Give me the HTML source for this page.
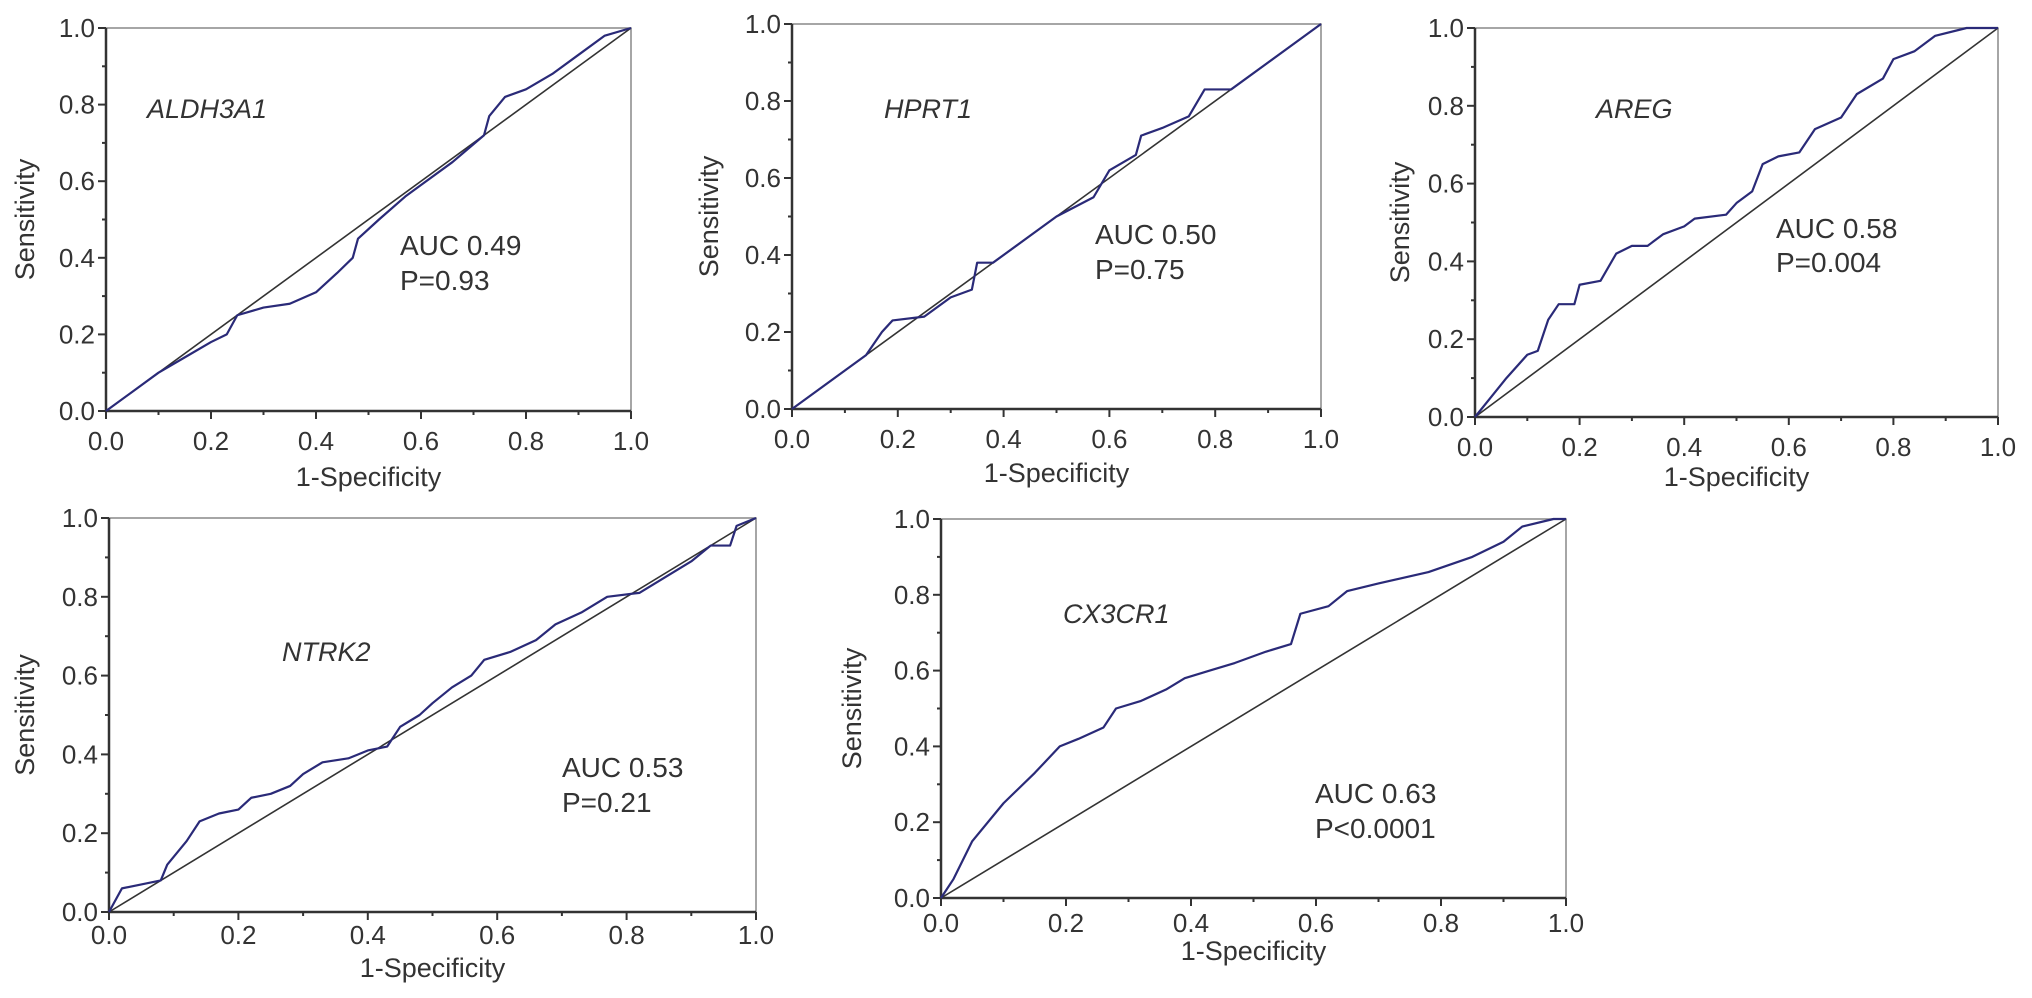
<!DOCTYPE html>
<html><head><meta charset="utf-8"><style>
html,body{margin:0;padding:0;background:#fff;}
svg{display:block;font-family:"Liberation Sans",Arial,sans-serif;}
</style></head><body>
<svg id="fig" width="2032" height="998" viewBox="0 0 2032 998" xmlns="http://www.w3.org/2000/svg"></svg>
<script>
const tickValues = [0, 0.2, 0.4, 0.6, 0.8, 1.0];
const tickLabels = ["0.0", "0.2", "0.4", "0.6", "0.8", "1.0"];
const geneNames = ["ALDH3A1", "HPRT1", "AREG", "NTRK2", "CX3CR1"];
const aucLabels = ["AUC 0.49", "AUC 0.50", "AUC 0.58", "AUC 0.53", "AUC 0.63"];
const pLabels = ["P=0.93", "P=0.75", "P=0.004", "P=0.21", "P<0.0001"];
const fprALDH3A1 = [0,0.05,0.1,0.15,0.2,0.23,0.25,0.3,0.35,0.4,0.44,0.47,0.48,0.52,0.57,0.6,0.66,0.72,0.73,0.76,0.8,0.85,0.9,0.95,1];
const tprALDH3A1 = [0,0.05,0.1,0.14,0.18,0.2,0.25,0.27,0.28,0.31,0.36,0.4,0.45,0.5,0.56,0.59,0.65,0.72,0.77,0.82,0.84,0.88,0.93,0.98,1];
const fprHPRT1 = [0,0.05,0.1,0.14,0.17,0.19,0.25,0.3,0.34,0.35,0.38,0.45,0.5,0.57,0.6,0.65,0.66,0.7,0.75,0.78,0.83,0.9,0.95,1];
const tprHPRT1 = [0,0.05,0.1,0.14,0.2,0.23,0.24,0.29,0.31,0.38,0.38,0.45,0.5,0.55,0.62,0.66,0.71,0.73,0.76,0.83,0.83,0.9,0.95,1];
const fprAREG = [0,0.03,0.06,0.1,0.12,0.14,0.16,0.19,0.2,0.24,0.27,0.3,0.33,0.36,0.4,0.42,0.48,0.5,0.53,0.55,0.58,0.62,0.65,0.7,0.73,0.78,0.8,0.84,0.88,0.94,1];
const tprAREG = [0,0.05,0.1,0.16,0.17,0.25,0.29,0.29,0.34,0.35,0.42,0.44,0.44,0.47,0.49,0.51,0.52,0.55,0.58,0.65,0.67,0.68,0.74,0.77,0.83,0.87,0.92,0.94,0.98,1,1];
const fprNTRK2 = [0,0.02,0.05,0.08,0.09,0.12,0.14,0.17,0.2,0.22,0.25,0.28,0.3,0.33,0.37,0.4,0.43,0.45,0.48,0.5,0.53,0.56,0.58,0.62,0.66,0.69,0.73,0.77,0.82,0.86,0.9,0.93,0.96,0.97,1];
const tprNTRK2 = [0,0.06,0.07,0.08,0.12,0.18,0.23,0.25,0.26,0.29,0.3,0.32,0.35,0.38,0.39,0.41,0.42,0.47,0.5,0.53,0.57,0.6,0.64,0.66,0.69,0.73,0.76,0.8,0.81,0.85,0.89,0.93,0.93,0.98,1];
const fprCX3CR1 = [0,0.02,0.05,0.1,0.15,0.19,0.22,0.26,0.28,0.32,0.36,0.39,0.43,0.47,0.52,0.56,0.575,0.62,0.65,0.7,0.78,0.85,0.9,0.93,0.98,1];
const tprCX3CR1 = [0,0.05,0.15,0.25,0.33,0.4,0.42,0.45,0.5,0.52,0.55,0.58,0.6,0.62,0.65,0.67,0.75,0.77,0.81,0.83,0.86,0.9,0.94,0.98,1,1];
const fprSeries = [fprALDH3A1, fprHPRT1, fprAREG, fprNTRK2, fprCX3CR1];
const tprSeries = [tprALDH3A1, tprHPRT1, tprAREG, tprNTRK2, tprCX3CR1];

// layout (pixel geometry, not data)
const panels = [
 {L:106,R:631,T:28,B:411, gx:147,gy:108, ax:400,ay:245,py:280, xt:30,xl:66, yl:25},
 {L:792,R:1321,T:24,B:409, gx:884,gy:108, ax:1095,ay:234,py:269, xt:30,xl:64, yl:709},
 {L:1475,R:1998,T:28,B:417, gx:1596,gy:108, ax:1776,ay:228,py:262, xt:30,xl:60, yl:1400},
 {L:109,R:756,T:518,B:912, gx:282,gy:651, ax:562,ay:767,py:802, xt:23,xl:56, yl:25},
 {L:941,R:1566,T:519,B:898, gx:1063,gy:613, ax:1315,ay:793,py:828, xt:25,xl:53, yl:852}
];
const NS="http://www.w3.org/2000/svg";
const svg=document.getElementById('fig');
function mk(tag,attrs,parent,text){const e=document.createElementNS(NS,tag);for(const k in attrs)e.setAttribute(k,attrs[k]);if(text!==undefined)e.textContent=text;(parent||svg).appendChild(e);return e;}

panels.forEach((p,i)=>{
  const g=mk('g',{});
  
  
  const xs=v=>p.L+v*(p.R-p.L);
  const ys=v=>p.B-v*(p.B-p.T);
  const fr=mk('path',{d:`M${p.L},${p.T}H${p.R}V${p.B}`,fill:'none',stroke:'#888',"stroke-width":1.5},g);
  
  
  const ax=mk('path',{d:`M${p.L},${p.T}V${p.B}H${p.R}`,fill:'none',stroke:'#333',"stroke-width":2.5},g);
  
  
  for(let k=1;k<10;k+=2){
    const v=k/10;
    mk('line',{x1:xs(v),x2:xs(v),y1:p.B,y2:p.B+4,stroke:'#333',"stroke-width":2},g);
    mk('line',{x1:p.L-4,x2:p.L,y1:ys(v),y2:ys(v),stroke:'#333',"stroke-width":2},g);
  }
  tickValues.forEach((v,j)=>{
    mk('line',{x1:xs(v),x2:xs(v),y1:p.B,y2:p.B+8,stroke:'#333',"stroke-width":2},g);
    mk('line',{x1:p.L-8,x2:p.L,y1:ys(v),y2:ys(v),stroke:'#333',"stroke-width":2},g);
    const xt=mk('text',{x:xs(v),y:p.B+p.xt+9,"font-size":26,"text-anchor":"middle",fill:'#333'},g,tickLabels[j]);
    
    
    const yt=mk('text',{x:p.L-11,y:ys(v)+9,"font-size":26,"text-anchor":"end",fill:'#333'},g,tickLabels[j]);
    
    
  });
  const xl=mk('text',{x:(p.L+p.R)/2,y:p.B+p.xl+9,"font-size":27,"text-anchor":"middle",fill:'#333'},g,'1-Specificity');
  
  
  const cy=(p.T+p.B)/2;
  const yl=mk('text',{x:p.yl,y:cy,"font-size":27,"text-anchor":"middle",fill:'#333',transform:`rotate(-90 ${p.yl} ${cy}) translate(0 9)`},g,'Sensitivity');
  
  
  const dg=mk('line',{x1:xs(0),y1:ys(0),x2:xs(1),y2:ys(1),stroke:'#333',"stroke-width":1.6},g);
  
  
  const f=fprSeries[i], t=tprSeries[i];
  let d=`M${xs(f[0])},${ys(t[0])}`;
  for(let k=1;k<f.length;k++){ d+=` L${xs(f[k])},${ys(t[k])}`; }
  const c=mk('path',{d:d,fill:'none',stroke:'#2a2a78',"stroke-width":2.2,"stroke-linejoin":"round"},g);
  
  
  const gn=mk('text',{x:p.gx,y:p.gy+10,"font-size":27,"font-style":"italic",fill:'#333'},g,geneNames[i]);
  
  
  const au=mk('text',{x:p.ax,y:p.ay+10,"font-size":28,fill:'#333'},g,aucLabels[i]);
  
  
  const pv=mk('text',{x:p.ax,y:p.py+10,"font-size":28,fill:'#333'},g,pLabels[i]);
  
  
});
</script>
</body></html>
